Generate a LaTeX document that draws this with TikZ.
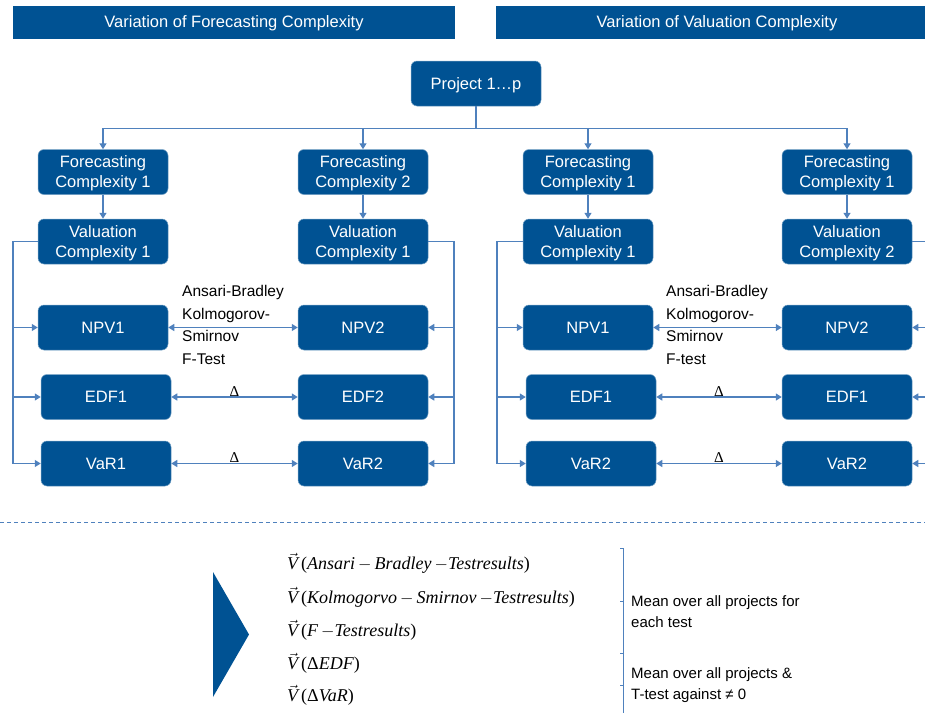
\documentclass[tikz,border=0pt]{standalone}
\usepackage{fontspec}
\setmainfont{Liberation Sans}
\newfontfamily\timesfont{Liberation Serif}
\usetikzlibrary{arrows.meta, calc}
\definecolor{DeepBlue}{RGB}{0,82,147}
\definecolor{LineBlue}{RGB}{79,129,189}
\newcommand{\vecV}{$\vec{\mbox{\timesfont\itshape V}}$\,}

\begin{document}
\begin{tikzpicture}[
    x=1pt, y=-1pt,
    box/.style={fill=DeepBlue, draw=DeepBlue!55, line width=0.5pt, rounded corners=6pt,
        text=white, align=center, minimum width=130pt, minimum height=45pt, inner sep=0pt,
        text depth=0pt, font=\fontsize{16.5}{20}\selectfont},
    bar/.style={fill=DeepBlue, text=white, minimum width=442pt, minimum height=33pt,
        inner sep=0pt, text depth=0pt, font=\fontsize{16.5}{20}\selectfont},
    link/.style={draw=LineBlue, line width=1.4pt},
    arr/.style={link, -{Triangle[length=6pt, width=7pt]}},
    darr/.style={link, {Triangle[length=6pt, width=7pt]}-{Triangle[length=6pt, width=7pt]}},
    tests/.style={anchor=north west, align=left, inner sep=0pt, font=\fontsize{15.5}{22.7}\selectfont},
    delta/.style={anchor=south, inner sep=0pt, font=\timesfont\fontsize{15}{15}\selectfont},
    formula/.style={anchor=west, inner sep=0pt, font=\timesfont\itshape\fontsize{18}{20}\selectfont},
    note/.style={anchor=west, align=left, inner sep=0pt, font=\fontsize{15}{21.5}\selectfont},
]
\clip (0,0) rectangle (925,712);

% ===== cabeceras =====
\node[bar] (hdrF) at (234,22) {Variation of Forecasting Complexity};
\node[bar] (hdrV) at (717,22) {Variation of Valuation Complexity};

% ===== arbol de proyectos =====
\node[box] (proj) at (476,83.5) {Project 1…p};

\foreach \i/\x/\xs/\fc/\vc/\npv/\edf/\var in {
    1/103/106/1/1/NPV1/EDF1/VaR1,
    2/363/363/2/1/NPV2/EDF2/VaR2,
    3/588/591/1/1/NPV1/EDF1/VaR2,
    4/847/847/1/2/NPV2/EDF1/VaR2}{
    \node[box] (fc\i) at (\x,172) {Forecasting\\Complexity \fc};
    \node[box] (vc\i) at (\x,241.5) {Valuation\\Complexity \vc};
    \node[box] (npv\i) at (\x,327.5) {\npv};
    \node[box] (edf\i) at (\xs,397) {\edf};
    \node[box] (var\i) at (\xs,463.5) {\var};
    \draw[arr] (fc\i.south) -- (vc\i.north);
}

\draw[link] (proj.south) -- ++(0,22) coordinate (hub);
\draw[link] (fc1.north |- hub) -- (fc4.north |- hub);
\foreach \i in {1,...,4}
    \draw[arr] (fc\i.north |- hub) -- (fc\i.north);

% ===== carriles laterales =====
\coordinate (r1) at (13,0);
\coordinate (r2) at (454,0);
\coordinate (r3) at (497,0);
\coordinate (r4) at (940,0);

\draw[link] (vc1.west) -| (r1 |- var1.west);
\draw[link] (vc2.east) -| (r2 |- var2.east);
\draw[link] (vc3.west) -| (r3 |- var3.west);
\draw[link] (vc4.east) -| (r4 |- var4.east);
\foreach \r in {npv,edf,var}{
    \draw[arr] (r1 |- \r1.west) -- (\r1.west);
    \draw[arr] (r2 |- \r2.east) -- (\r2.east);
    \draw[arr] (r3 |- \r3.west) -- (\r3.west);
    \draw[arr] (r4 |- \r4.east) -- (\r4.east);
}

% ===== comparaciones =====
\draw[darr] (npv1.east) -- (npv2.west);
\draw[darr] (edf1.east) -- node[delta] (dedfA) {Δ} (edf2.west);
\draw[darr] (var1.east) -- node[delta] (dvarA) {Δ} (var2.west);
\draw[darr] (npv3.east) -- (npv4.west);
\draw[darr] (edf3.east) -- node[delta] (dedfB) {Δ} (edf4.west);
\draw[darr] (var3.east) -- node[delta] (dvarB) {Δ} (var4.west);

\node[tests] (testsA) at (182,285) {Ansari-Bradley\\Kolmogorov-\\Smirnov\\F-Test};
\node[tests] (testsB) at (666,285) {Ansari-Bradley\\Kolmogorov-\\Smirnov\\F-test};

% ===== separador =====
\draw[LineBlue, line width=0.9pt, dash pattern=on 4pt off 3pt] (0,522) -- (925,522);

% ===== resultados =====
\fill[DeepBlue] (213,572) -- (249,634.5) -- (213,697) -- cycle;

\node[formula] (vab) at (287,563) {\vecV\textup{(}Ansari\,$-$\,Bradley\,$-$Testresults\textup{)}};
\node[formula] (vks) at (287,597) {\vecV\textup{(}Kolmogorvo\,$-$\,Smirnov\,$-$Testresults\textup{)}};
\node[formula] (vf) at (287,630) {\vecV\textup{(}F\,$-$Testresults\textup{)}};
\node[formula] (vedf) at (287,663) {\vecV\textup{(Δ}EDF\textup{)}};
\node[formula] (vvar) at (287,695) {\vecV\textup{(Δ}VaR\textup{)}};

% llaves
\draw[LineBlue, line width=0.8pt] (620,548) -- (623,548) -- (623,653) -- (620,653);
\draw[LineBlue, line width=0.8pt] (620,601) -- (623,601);
\draw[LineBlue, line width=0.8pt] (623,653) -- (623,715);
\draw[LineBlue, line width=0.8pt] (620,685) -- (623,685);

\node[note] (meanA) at (631,611.5) {Mean over all projects for\\each test};
\node[note] (meanB) at (631,685) {Mean over all projects \&\\T-test against ≠ 0};

\end{tikzpicture}
\end{document}
